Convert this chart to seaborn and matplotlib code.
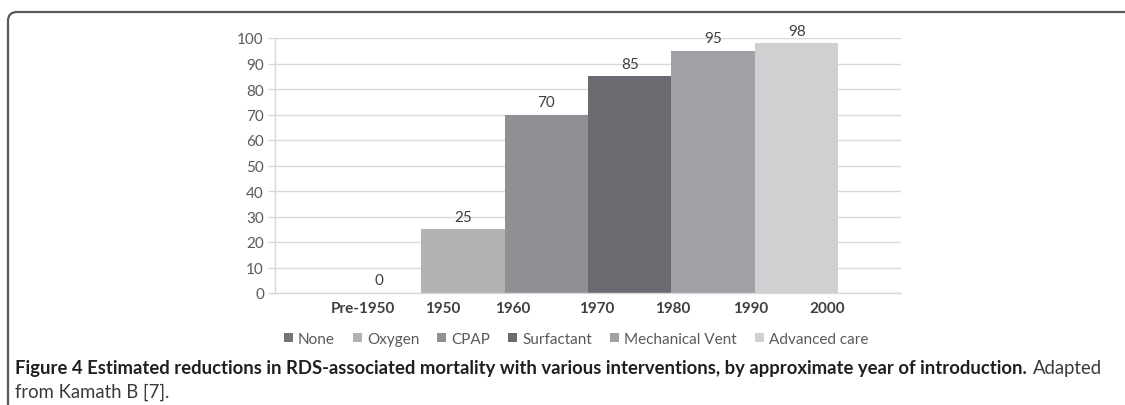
import matplotlib
matplotlib.use("Agg")
import matplotlib.pyplot as plt
import seaborn as sns
import pandas as pd
from matplotlib.patches import Patch, FancyBboxPatch

# ---- data ----
interventions = ["None", "Oxygen", "CPAP", "Surfactant", "Mechanical Vent", "Advanced care"]
mortality_reduction = [0, 25, 70, 85, 95, 98]
period_labels = ["Pre-1950", "1950", "1960", "1970", "1980", "1990", "2000"]
bar_colors = ["#737477", "#b2b2b3", "#8f9094", "#6a6b70", "#a0a1a5", "#d0d0d2"]

sns.set_theme(style="white")
plt.rcParams["font.family"] = ["Lato", "DejaVu Sans"]

fig = plt.figure(figsize=(11.25, 4.06), dpi=100)
ax = fig.add_axes([275 / 1125, 1 - 294 / 406, 626 / 1125, 255 / 406])

df = pd.DataFrame({"intervention": interventions, "value": mortality_reduction})
sns.barplot(data=df, x="intervention", y="value", hue="intervention",
            palette=bar_colors, width=1.0, dodge=False, legend=False,
            saturation=1.0, linewidth=0, ax=ax)

ax.set_xlim(-1.25, 6.25)
ax.set_ylim(0, 100)
ax.set_yticks(range(0, 101, 10))
ax.yaxis.grid(True, color="#d9d9d9", linewidth=1)
ax.set_axisbelow(True)
for s in ["top", "right"]:
    ax.spines[s].set_visible(False)
for s in ["left", "bottom"]:
    ax.spines[s].set_color("#d9d9d9")
    ax.spines[s].set_linewidth(1)
ax.tick_params(axis="y", length=5, width=1, color="#d9d9d9", labelsize=11,
               labelcolor="#595959", pad=3, left=True)
ax.set_xlabel("")
ax.set_ylabel("")

# period labels at bar boundaries (as in original Excel layout)
tick_pos = [-0.2, 0.76, 1.6, 2.61, 3.51, 4.45, 5.37]
ax.set_xticks(tick_pos)
ax.set_xticklabels(period_labels, fontweight="bold", color="#404040", fontsize=11)
ax.tick_params(axis="x", length=0, pad=6)

# value labels
for i, v in enumerate(mortality_reduction):
    ax.annotate(str(v), (i, v), xytext=(0, 4), textcoords="offset points",
                ha="center", va="bottom", fontsize=11, color="#404040")

# legend
handles = [Patch(facecolor=c, edgecolor="none", label=l) for c, l in zip(bar_colors, interventions)]
leg = fig.legend(handles=handles, loc="center", bbox_to_anchor=(576 / 1125, 1 - 340 / 406),
                 ncol=6, frameon=False, fontsize=11, handlelength=0.6, handleheight=0.6,
                 handletextpad=0.35, columnspacing=1.15, labelcolor="#595959")

# rounded frame
frame = FancyBboxPatch((0.08, -0.5), 12.0, 3.93 + 0.5,
                       boxstyle="round,pad=0,rounding_size=0.09",
                       transform=fig.dpi_scale_trans, facecolor="none",
                       edgecolor="#58595b", linewidth=1.6, zorder=-1)
fig.patches.append(frame)

# caption
renderer = fig.canvas.get_renderer()
cap_font = ["Lato", "DejaVu Sans"]
bold_txt = fig.text(15 / 1125, 1 - 369 / 406,
                    "Figure 4 Estimated reductions in RDS-associated mortality with various interventions, by approximate year of introduction.",
                    fontsize=11, fontweight="bold", color="#231f20", family=cap_font,
                    ha="left", va="center")
w = bold_txt.get_window_extent(renderer).width
bold_txt.set_fontsize(11 * 1008 / w)
bb = bold_txt.get_window_extent(renderer)
fig.text((bb.x1 + 6) / 1125, 1 - 369 / 406, "Adapted", fontsize=bold_txt.get_fontsize(),
         color="#3a3a3a", family=cap_font, ha="left", va="center")
fig.text(15 / 1125, 1 - 392 / 406, "from Kamath B [7].", fontsize=bold_txt.get_fontsize(),
         color="#3a3a3a", family=cap_font, ha="left", va="center")

fig.savefig("out.png", dpi=100)
